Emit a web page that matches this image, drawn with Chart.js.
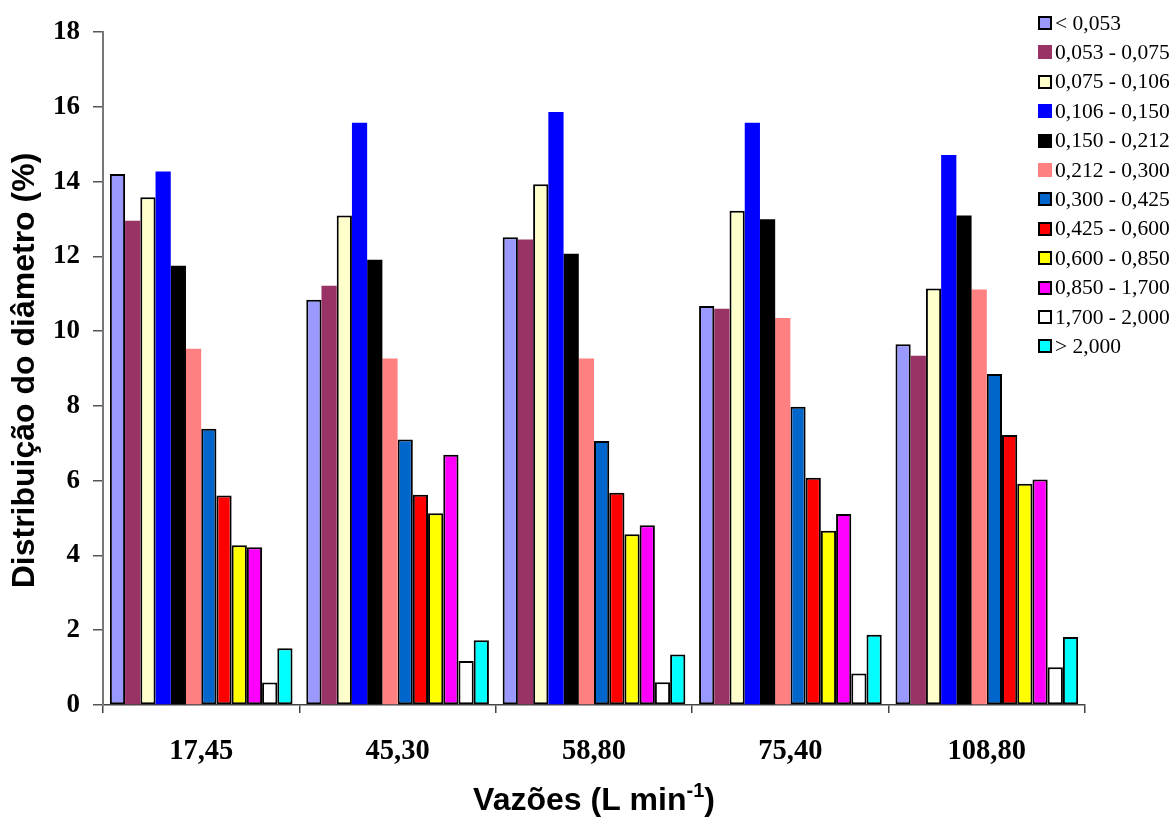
<!DOCTYPE html>
<html>
<head>
<meta charset="utf-8">
<script src="https://cdn.jsdelivr.net/npm/chart.js@4/dist/chart.umd.min.js"></script>
<style>
  html, body { margin: 0; padding: 0; background: #ffffff; }
  #wrap { width: 1174px; height: 818px; }
</style>
</head>
<body>
<div id="wrap"><canvas id="c" width="1174" height="818"></canvas></div>
<script>
// Flow rates (L min-1)
const categories = ['17,45', '45,30', '58,80', '75,40', '108,80'];

// Particle size classes (mm)
const classLabels = [
  '< 0,053', '0,053 - 0,075', '0,075 - 0,106', '0,106 - 0,150',
  '0,150 - 0,212', '0,212 - 0,300', '0,300 - 0,425', '0,425 - 0,600',
  '0,600 - 0,850', '0,850 - 1,700', '1,700 - 2,000', '> 2,000'
];

// Percentage of each size class, one value per flow rate
const lt0053     = [14.20, 10.84, 12.51, 10.67,  9.65];
const c0053_0075 = [12.95, 11.21, 12.45, 10.60,  9.34];
const c0075_0106 = [13.58, 13.09, 13.93, 13.22, 11.14];
const c0106_0150 = [14.27, 15.57, 15.86, 15.57, 14.71];
const c0150_0212 = [11.75, 11.91, 12.07, 12.99, 13.09];
const c0212_0300 = [ 9.53,  9.27,  9.27, 10.35, 11.11];
const c0300_0425 = [ 7.39,  7.10,  7.06,  7.98,  8.85];
const c0425_0600 = [ 5.60,  5.62,  5.68,  6.08,  7.22];
const c0600_0850 = [ 4.27,  5.13,  4.57,  4.66,  5.92];
const c0850_1700 = [ 4.22,  6.69,  4.81,  5.11,  6.03];
const c1700_2000 = [ 0.60,  1.18,  0.61,  0.84,  1.01];
const gt2000     = [ 1.52,  1.73,  1.35,  1.88,  1.82];

const yTickValues = [0, 2, 4, 6, 8, 10, 12, 14, 16, 18];

const seriesValues = [lt0053, c0053_0075, c0075_0106, c0106_0150, c0150_0212, c0212_0300,
                      c0300_0425, c0425_0600, c0600_0850, c0850_1700, c1700_2000, gt2000];

const fills = ['#9999FF', '#993366', '#FFFFCC', '#0000FF', '#000000', '#FF8080',
               '#0066CC', '#FF0000', '#FFFF00', '#FF00FF', '#FFFFFF', '#00FFFF'];
const outlined = [true, false, true, false, false, false, true, true, true, true, true, true];

const datasets = seriesValues.map((vals, i) => ({
  label: classLabels[i],
  data: vals,
  backgroundColor: fills[i],
  borderColor: '#000000',
  borderWidth: outlined[i] ? 2 : 0,
  borderSkipped: false,
  categoryPercentage: 0.93,
  barPercentage: 1.0
}));

// Axis titles and the floating legend box
const decorations = {
  id: 'decorations',
  afterDraw(chart) {
    const ctx = chart.ctx;
    const area = chart.chartArea;

    // y title
    ctx.save();
    ctx.translate(25, (area.top + area.bottom) / 2 + 2);
    ctx.rotate(-Math.PI / 2);
    ctx.font = 'bold 32px "Liberation Sans", Arial, sans-serif';
    ctx.fillStyle = '#000';
    ctx.textAlign = 'center';
    ctx.textBaseline = 'middle';
    ctx.fillText('Distribuição do diâmetro (%)', 0, 0);
    ctx.restore();

    // x title with superscript exponent
    ctx.save();
    ctx.fillStyle = '#000';
    ctx.textBaseline = 'alphabetic';
    ctx.textAlign = 'left';
    const mainFont = 'bold 32px "Liberation Sans", Arial, sans-serif';
    const supFont = 'bold 20px "Liberation Sans", Arial, sans-serif';
    const p1 = 'Vazões (L min', p2 = '-1', p3 = ')';
    ctx.font = mainFont;
    const w1 = ctx.measureText(p1).width, w3 = ctx.measureText(p3).width;
    ctx.font = supFont;
    const w2 = ctx.measureText(p2).width;
    let x = (area.left + area.right) / 2 - (w1 + w2 + w3) / 2;
    const base = 810;
    ctx.font = mainFont;
    ctx.fillText(p1, x, base); x += w1;
    ctx.font = supFont;
    ctx.fillText(p2, x, base - 13); x += w2;
    ctx.font = mainFont;
    ctx.fillText(p3, x, base);
    ctx.restore();

    // legend
    ctx.save();
    ctx.font = '21.5px "Liberation Serif", "Times New Roman", serif';
    ctx.textAlign = 'left';
    ctx.textBaseline = 'middle';
    chart.data.datasets.forEach((ds, i) => {
      const cy = 23 + i * 29.4;
      const bx = 1038, by = Math.round(cy - 7), s = 14;
      ctx.fillStyle = ds.backgroundColor;
      ctx.fillRect(bx, by, s, s);
      if (ds.borderWidth > 0) {
        ctx.lineWidth = 2;
        ctx.strokeStyle = '#000';
        ctx.strokeRect(bx + 1, by + 1, s - 2, s - 2);
      }
      ctx.fillStyle = '#000';
      ctx.fillText(ds.label, 1055, cy + 1);
    });
    ctx.restore();
  }
};

new Chart(document.getElementById('c'), {
  type: 'bar',
  data: { labels: categories, datasets: datasets },
  plugins: [decorations],
  options: {
    responsive: false,
    devicePixelRatio: 1,
    animation: false,
    layout: { padding: { left: 0, top: 32, right: 89, bottom: 0 } },
    plugins: {
      legend: { display: false },
      tooltip: { enabled: false }
    },
    scales: {
      x: {
        offset: true,
        grid: { offset: true, drawOnChartArea: false, drawTicks: true, tickLength: 8, color: '#444', lineWidth: 1.5 },
        border: { color: '#444', width: 1.5 },
        ticks: {
          color: '#000',
          padding: 22,
          font: { family: '"Liberation Serif", "Times New Roman", serif', size: 28.5, weight: 'bold' }
        },
        afterFit(scale) { scale.height = 113; }
      },
      y: {
        min: 0,
        max: 18,
        afterBuildTicks(scale) { scale.ticks = yTickValues.map(v => ({ value: v })); },
        grid: { drawOnChartArea: false, drawTicks: true, tickLength: 10, color: '#555', lineWidth: 1.5 },
        border: { color: '#777', width: 2 },
        ticks: {
          color: '#000',
          padding: 13,
          font: { family: '"Liberation Serif", "Times New Roman", serif', size: 27, weight: 'bold' }
        },
        afterFit(scale) { scale.width = 103; }
      }
    }
  }
});
</script>
</body>
</html>
